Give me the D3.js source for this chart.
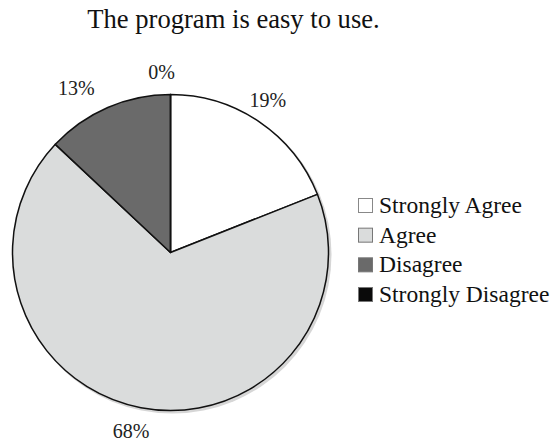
<!DOCTYPE html>
<html><head><meta charset="utf-8">
<script src="https://cdn.jsdelivr.net/npm/d3@7"></script>
<style>
body{margin:0;background:#fff}
svg{display:block}
svg text{font-family:"Liberation Serif","Times New Roman",Times,serif}
</style>
</head><body>
<svg id="c" width="552" height="444"></svg>
<script>
const title = "The program is easy to use.";
const categories = ["Strongly Agree", "Agree", "Disagree", "Strongly Disagree"];
const values = [19, 68, 13, 0];
const labels = ["19%", "68%", "13%", "0%"];
const colors = ["#ffffff", "#dadcdc", "#6a6a6a", "#0a0a0a"];

const svg = d3.select("#c");
const cx = 170.5, cy = 252.5, r = 158;

svg.append("text").attr("x", 233.5).attr("y", 28).attr("text-anchor", "middle")
  .style("font-size", "26.6px").attr("fill", "#111").text(title);

const g = svg.append("g").attr("transform", `translate(${cx},${cy})`);
// soft shadow
g.append("circle").attr("cx", 2).attr("cy", 2).attr("r", r + 1).attr("fill", "#bbb").attr("opacity", 0.6);

const pie = d3.pie().sort(null).value(d => d)(values);
const arc = d3.arc().innerRadius(0).outerRadius(r);
g.selectAll("path.s").data(pie).enter().append("path").attr("class", "s")
  .attr("d", arc).attr("fill", (d, i) => colors[i])
  .attr("stroke", "#111").attr("stroke-width", 1.5).attr("stroke-linejoin", "round");

// percentage labels
const labelArc = d3.arc().innerRadius(r + 26).outerRadius(r + 26);
const labelOffsets = [[-6, 0], [-5, -2], [-21, 4], [-9, 3]];
g.selectAll("text.l").data(pie).enter().append("text").attr("class", "l")
  .attr("transform", (d, i) => {
    const c = labelArc.centroid(d);
    return `translate(${c[0] + labelOffsets[i][0]},${c[1] + labelOffsets[i][1]})`;
  })
  .attr("text-anchor", "middle").attr("dy", "0.35em")
  .style("font-size", "20px").attr("fill", "#222")
  .text((d, i) => labels[i]);

// legend
const ly = d3.scalePoint().domain(categories).range([205.5, 294.5]);
const lg = svg.append("g");
categories.forEach((c, i) => {
  lg.append("rect").attr("x", 358.5).attr("y", ly(c) - 7).attr("width", 14).attr("height", 14)
    .attr("fill", colors[i]).attr("stroke", i === 0 ? "#888" : "#777").attr("stroke-width", 1);
  lg.append("text").attr("x", 379).attr("y", ly(c) + 7.5)
    .style("font-size", "23.5px").attr("fill", "#111").text(c);
});
</script>
</body></html>
